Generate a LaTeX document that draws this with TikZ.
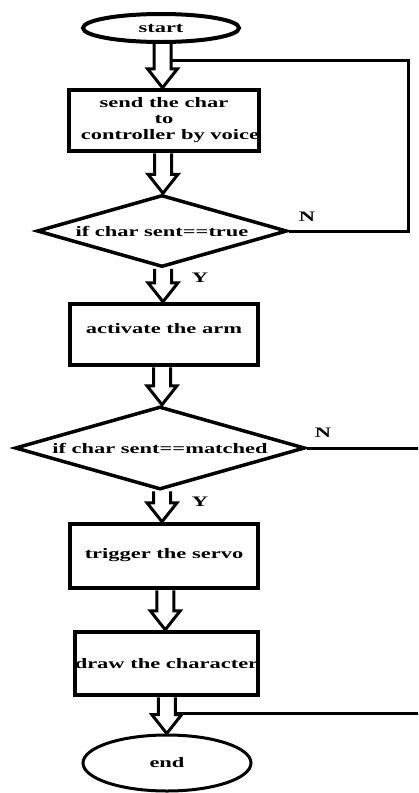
\documentclass[tikz,border=0pt]{standalone}
\usepackage{fontspec}
\newfontfamily\lblfont[FakeStretch=1.55]{Liberation Serif}
\usetikzlibrary{shapes.geometric,calc}
\newcommand\hollowarrow[2]{%
  \draw[harrow] let \p1=(#1), \p2=(#2), \n1={(\x1+\x2)/2} in
    (\n1-8.5pt,\y1) -- (\n1-8.5pt,\y2+19pt) -- (\n1-15pt,\y2+19pt) -- (\n1,\y2)
    -- (\n1+15pt,\y2+19pt) -- (\n1+8.5pt,\y2+19pt) -- (\n1+8.5pt,\y1);}
\begin{document}
\begin{tikzpicture}[x=1pt,y=-1pt,
  every node/.style={font=\lblfont\bfseries\fontsize{14.5}{16}\selectfont, inner sep=0pt},
  term/.style={ellipse, draw},
  box/.style={rectangle, draw, line width=4.5pt, align=center},
  dia/.style={diamond, draw, line width=3.5pt, aspect=3.5},
  harrow/.style={draw, line width=3pt, line join=miter, fill=white},
  flow/.style={draw, line width=3pt}]
\useasboundingbox (0,0) rectangle (418,793);
\clip (0,0) rectangle (418,793);
\fill[white] (0,0) rectangle (418,793);

\node[term, line width=4pt, minimum width=156pt, minimum height=28pt] (s) at (161,28) {start};
\node[box, minimum width=188pt, minimum height=61pt] (b1) at (164,120.5)
  {send the char\\ to\hspace*{32pt}\\ \hspace*{12pt}controller by voice};
\node[dia, minimum width=250pt, minimum height=72pt] (d1) at (162,231) {if char sent==true};
\node[box, minimum width=188pt, minimum height=61pt, text depth=12pt] (b2) at (164,334.5) {activate the arm};
\node[dia, minimum width=290pt, minimum height=83pt] (d2) at (160,448) {if char sent==matched};
\node[box, minimum width=188pt, minimum height=64pt, text depth=6pt] (b3) at (164,556) {trigger the servo};
\node[box, minimum width=183pt, minimum height=63pt] (b4) at (166.5,663.5) {draw the character};
\node[term, line width=3pt, minimum width=168pt, minimum height=56pt] (e) at (167,763) {end};

\node (n1) at (307,217) {N};
\node (y1) at (200,278) {Y};
\node (n2) at (323,433) {N};
\node (y2) at (200,502) {Y};

\hollowarrow{s.south}{b1.north}
\hollowarrow{b1.south}{d1.north}
\hollowarrow{d1.south}{b2.north}
\hollowarrow{b2.south}{d2.north}
\hollowarrow{d2.south}{b3.north}
\hollowarrow{b3.south}{b4.north}
\hollowarrow{b4.south}{e.north}

\coordinate (j1) at (171,60);
\coordinate (j2) at (175.25,713);
\draw[flow] (d1.east) -- (408,231) |- (j1);
\draw[flow] (d2.east) -- (430,448) |- (j2);
\end{tikzpicture}
\end{document}
